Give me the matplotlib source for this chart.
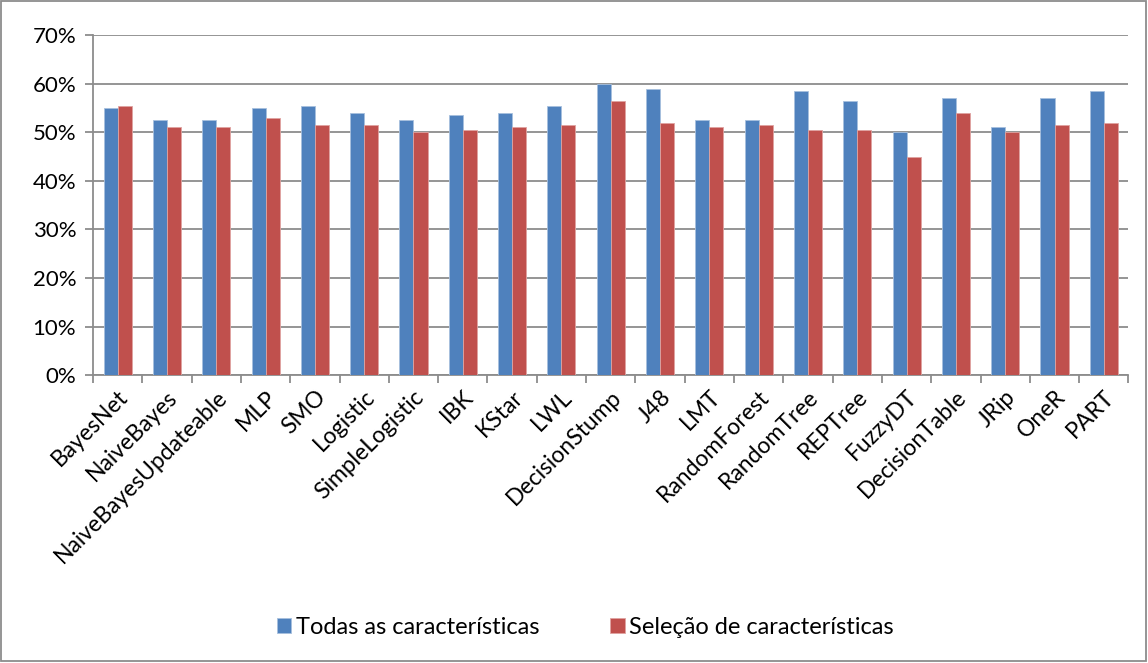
import numpy as np
import matplotlib.pyplot as plt
from matplotlib.patches import Rectangle

# Data
classifiers = ['BayesNet', 'NaiveBayes', 'NaiveBayesUpdateable', 'MLP', 'SMO',
               'Logistic', 'SimpleLogistic', 'IBK', 'KStar', 'LWL',
               'DecisionStump', 'J48', 'LMT', 'RandomForest', 'RandomTree',
               'REPTree', 'FuzzyDT', 'DecisionTable', 'JRip', 'OneR', 'PART']
todas = [55, 52.5, 52.5, 55, 55.5, 54, 52.5, 53.5, 54, 55.5,
         60, 59, 52.5, 52.5, 58.5, 56.5, 50, 57, 51, 57, 58.5]
selecao = [55.5, 51, 51, 53, 51.5, 51.5, 50, 50.5, 51, 51.5,
           56.5, 52, 51, 51.5, 50.5, 50.5, 45, 54, 50, 51.5, 52]
series_names = ['Todas as características', 'Seleção de características']
yticks = [0, 10, 20, 30, 40, 50, 60, 70]

plt.rcParams['font.family'] = ['Lato', 'DejaVu Sans']

fig = plt.figure(figsize=(11.48, 6.63), dpi=100)
ax = fig.add_axes([0.081, 0.434, 0.902, 0.513])

x = np.arange(len(classifiers))
w = 0.285
ax.bar(x - w / 2, todas, w, color='#4F81BD', edgecolor='#A7C0DE', linewidth=0.6,
       label=series_names[0], zorder=3)
ax.bar(x + w / 2, selecao, w, color='#C0504D', edgecolor='#DFA3A1', linewidth=0.6,
       label=series_names[1], zorder=3)

ax.set_xlim(-0.5, len(classifiers) - 0.5)
ax.set_ylim(0, 70)
ax.set_yticks(yticks)
ax.set_yticklabels([f'{t}%' for t in yticks], fontsize=16)
ax.grid(axis='y', color='#8C8C8C', linewidth=1.3, zorder=0)

# category labels at centres, tick marks at boundaries
ax.set_xticks(x)
ax.set_xticklabels(classifiers, rotation=45, ha='right', rotation_mode='anchor', fontsize=16.5)
ax.tick_params(axis='x', length=0, pad=8)
ax.set_xticks(np.arange(-0.5, len(classifiers)), minor=True)
ax.tick_params(axis='x', which='minor', length=6, color='#8C8C8C', width=1.3)
ax.tick_params(axis='y', length=6, color='#8C8C8C', width=1.3, pad=6)

for s in ['top', 'right']:
    ax.spines[s].set_visible(False)
for s in ['left', 'bottom']:
    ax.spines[s].set_color('#8C8C8C')
    ax.spines[s].set_linewidth(1.3)

fig.legend(loc='center', bbox_to_anchor=(0.51, 0.054), ncol=2, frameon=False,
           fontsize=17, handlelength=0.6, handleheight=0.6, columnspacing=3.0,
           handletextpad=0.2)

# chart border
fig.patches.append(Rectangle((0.001, 0.003), 0.997, 0.995, transform=fig.transFigure,
                             fill=False, edgecolor='#8C8C8C', linewidth=1.3))

fig.savefig('out.png', dpi=100)
